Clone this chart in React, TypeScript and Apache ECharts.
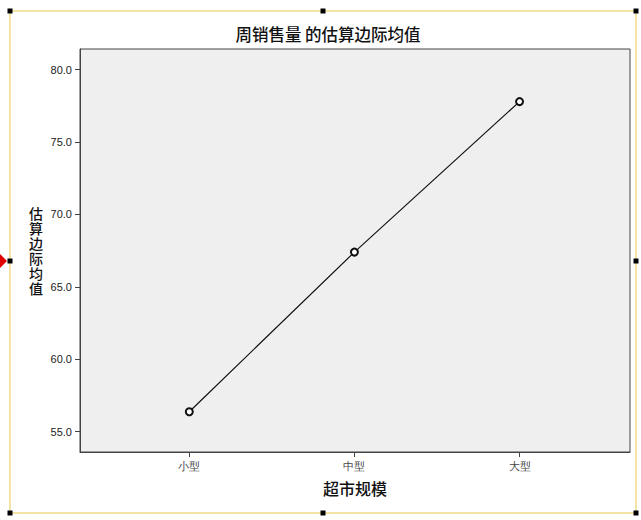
import { useEffect, useRef } from "react";
import * as echarts from "echarts";

// 超市规模 (categories) and 周销售量 估算边际均值
const categories = ["小型", "中型", "大型"];
const meanValues = [56.38, 67.4, 77.79];
const yTickValues = [55, 60, 65, 70, 75, 80];
const xTickValues = [0, 1, 2];

const handlePoints = [
  [10, 11],
  [323, 11],
  [636, 11],
  [10, 261],
  [636, 261],
  [10, 513],
  [323, 513],
  [636, 513],
];

export default function App() {
  const containerRef = useRef<HTMLDivElement>(null);

  useEffect(() => {
    if (!containerRef.current) return;
    const chart = echarts.init(containerRef.current, undefined, {
      renderer: "svg",
    });

    const tickFont = {
      color: "#222",
      fontSize: 11,
      fontFamily: "Liberation Sans, Arial, sans-serif",
    };
    const nameFont = {
      color: "#111",
      fontSize: 16,
      fontWeight: 500,
      fontFamily: "Noto Sans CJK SC, sans-serif",
    };

    chart.setOption({
      animation: false,
      backgroundColor: "#fff",
      title: {
        text: "周销售量 的估算边际均值",
        left: 323,
        top: 21,
        textAlign: "center",
        textStyle: { ...nameFont, fontSize: 16.5 },
      },
      grid: {
        left: 80,
        right: 11,
        top: 49,
        bottom: 68,
        show: true,
        backgroundColor: "#efefef",
        borderColor: "#444",
        borderWidth: 1,
      },
      xAxis: {
        type: "value",
        min: -0.662,
        max: 2.669,
        name: "超市规模",
        nameLocation: "middle",
        nameGap: 28,
        nameTextStyle: nameFont,
        splitLine: { show: false },
        axisLine: { show: true, onZero: false, lineStyle: { color: "#444" } },
        axisTick: {
          show: true,
          length: 5,
          customValues: xTickValues,
          lineStyle: { color: "#444" },
        },
        axisLabel: {
          ...tickFont,
          color: "#444",
          margin: 8,
          customValues: xTickValues,
          formatter: (v: number) => categories[Math.round(v)] ?? "",
        },
      },
      yAxis: {
        type: "value",
        min: 53.6,
        max: 81.42,
        name: "估\n算\n边\n际\n均\n值",
        nameLocation: "middle",
        nameRotate: 0,
        nameGap: 37,
        nameTextStyle: { ...nameFont, fontSize: 14, lineHeight: 15 },
        splitLine: { show: false },
        axisLine: { show: true, onZero: false, lineStyle: { color: "#444" } },
        axisTick: {
          show: true,
          length: 5,
          customValues: yTickValues,
          lineStyle: { color: "#444" },
        },
        axisLabel: {
          ...tickFont,
          margin: 8,
          customValues: yTickValues,
          formatter: (v: number) => v.toFixed(1),
        },
      },
      series: [
        {
          type: "line",
          data: categories.map((_, i) => [i, meanValues[i]]),
          symbol: "emptyCircle",
          symbolSize: 7,
          lineStyle: { color: "#111", width: 1.2 },
          itemStyle: { color: "#111", borderWidth: 1 },
        },
      ],
      graphic: [
        {
          type: "rect",
          shape: { x: 10, y: 11, width: 626, height: 502 },
          style: { fill: "none", stroke: "#f3e4a4", lineWidth: 2 },
          silent: true,
        },
        ...handlePoints.map(([x, y]) => ({
          type: "rect",
          shape: { x: x - 2.5, y: y - 2.5, width: 5, height: 5 },
          style: { fill: "#000" },
          silent: true,
        })),
        {
          type: "polygon",
          shape: {
            points: [
              [-6, 261],
              [0, 254],
              [7, 261],
              [0, 268],
            ],
          },
          style: { fill: "#e00000" },
          silent: true,
        },
      ],
    });

    return () => chart.dispose();
  }, []);

  return (
    <div
      ref={containerRef}
      style={{ position: "fixed", left: 0, top: 0, width: 641, height: 520 }}
    />
  );
}
